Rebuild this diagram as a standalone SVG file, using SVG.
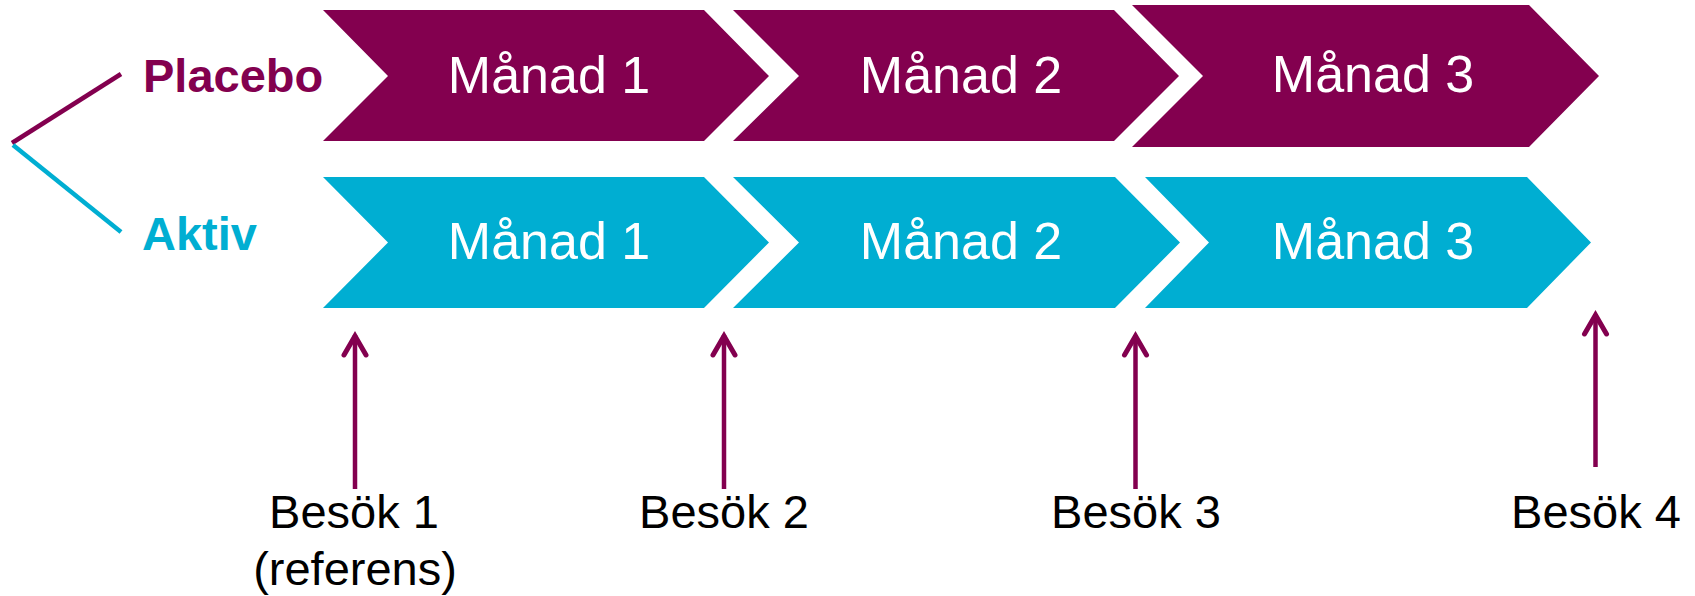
<svg xmlns="http://www.w3.org/2000/svg" width="1695" height="596" viewBox="0 0 1695 596">
<style>
.p{fill:#83004F}
.c{fill:#00AED2}
.m{font-family:"Liberation Sans",Arial,sans-serif;font-size:52px;fill:#ffffff;text-anchor:middle}
.lbl{font-family:"Liberation Sans",Arial,sans-serif;font-size:47px;font-weight:bold}
.b{font-family:"Liberation Sans",Arial,sans-serif;font-size:47px;fill:#000000;text-anchor:middle}
.arr{stroke:#83004F;stroke-width:4.5;fill:none;marker-end:url(#head)}
</style>
<defs>
<marker id="head" markerUnits="userSpaceOnUse" markerWidth="40" markerHeight="40" refX="0" refY="0" orient="auto" overflow="visible">
<path d="M-20,-11 L-1,0 L-20,11" fill="none" stroke="#83004F" stroke-width="5" stroke-linecap="round" stroke-linejoin="miter"/>
</marker>
</defs>
<rect width="1695" height="596" fill="#ffffff"/>
<g id="branch">
<line x1="12" y1="143" x2="121" y2="74" stroke="#83004F" stroke-width="4.5"/>
<line x1="13" y1="145" x2="121" y2="232" stroke="#00AED2" stroke-width="4.5"/>
</g>
<g id="label-placebo"><text class="lbl" x="143" y="92" fill="#83004F">Placebo</text></g>
<g id="label-aktiv"><text class="lbl" x="142" y="250" fill="#00AED2">Aktiv</text></g>
<g id="placebo-m1">
<polygon class="p" points="323,10 704,10 769,76 704,141 323,141 388,76"/>
<text class="m" x="549" y="92.5">Månad 1</text>
</g>
<g id="placebo-m2">
<polygon class="p" points="733,10 1114,10 1179,76 1114,141 733,141 799,76"/>
<text class="m" x="961" y="92.5">Månad 2</text>
</g>
<g id="placebo-m3">
<polygon class="p" points="1132,5 1529,5 1599,76 1529,147 1132,147 1203,76"/>
<text class="m" x="1373" y="92">Månad 3</text>
</g>
<g id="aktiv-m1">
<polygon class="c" points="323,177 704,177 769,242.5 704,308 323,308 388,242.5"/>
<text class="m" x="549" y="259">Månad 1</text>
</g>
<g id="aktiv-m2">
<polygon class="c" points="733,177 1115,177 1180,242.5 1115,308 733,308 799,242.5"/>
<text class="m" x="961" y="259">Månad 2</text>
</g>
<g id="aktiv-m3">
<polygon class="c" points="1145,177 1527,177 1591,242.5 1527,308 1145,308 1209,242.5"/>
<text class="m" x="1373" y="258.5">Månad 3</text>
</g>
<g id="connectors">
<line class="arr" x1="355" y1="489" x2="355" y2="335"/>
<line class="arr" x1="724" y1="489" x2="724" y2="335"/>
<line class="arr" x1="1135.5" y1="489" x2="1135.5" y2="335"/>
<line class="arr" x1="1595.5" y1="467" x2="1595.5" y2="314"/>
</g>
<g id="visit1"><text class="b" x="354" y="528">Besök 1</text><text class="b" x="355" y="585">(referens)</text></g>
<g id="visit2"><text class="b" x="724" y="528">Besök 2</text></g>
<g id="visit3"><text class="b" x="1136" y="528">Besök 3</text></g>
<g id="visit4"><text class="b" x="1596" y="528">Besök 4</text></g>
</svg>
